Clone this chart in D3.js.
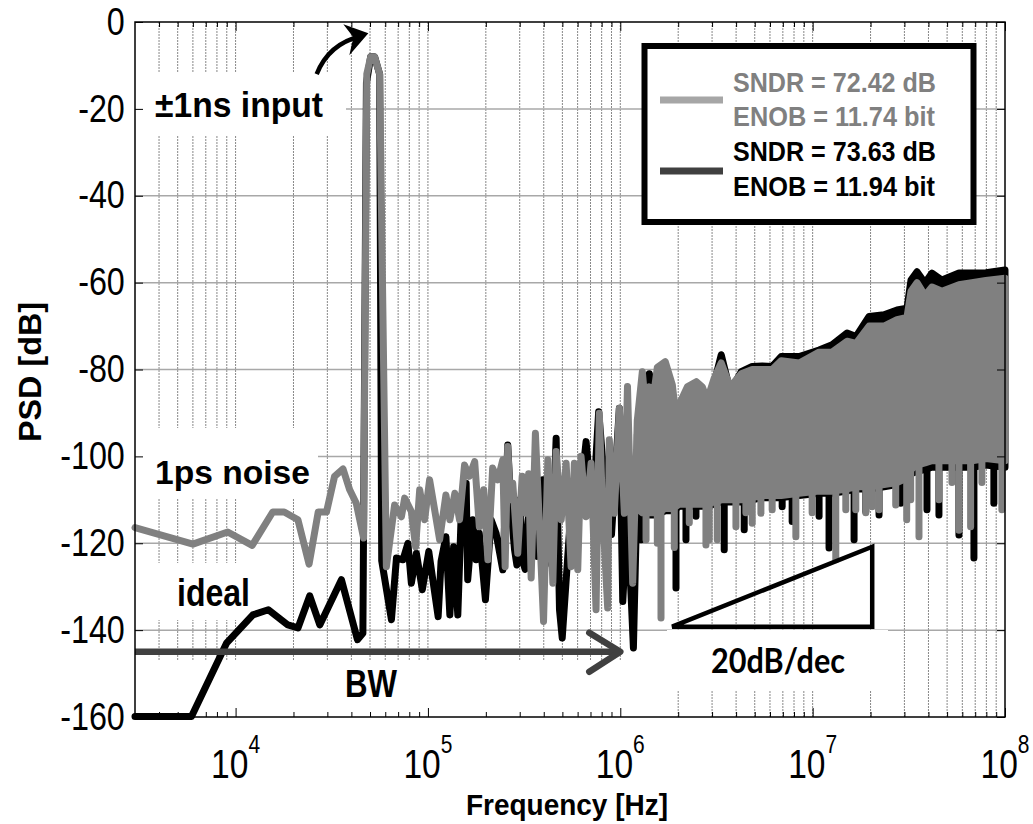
<!DOCTYPE html>
<html>
<head>
<meta charset="utf-8">
<script src="https://cdn.jsdelivr.net/npm/d3@7"></script>
<style>
  body { margin: 0; background: #fff; }
  svg { display: block; }
</style>
</head>
<body>
<div id="chart"></div>
<script>
// PSD plot, 1ps noise vs ideal

const width = 1033;
const height = 824;
const margin = {left: 135, right: 28, top: 22, bottom: 107};
const lineW = 7;

// ---- values ----
const yTicks = [0, -20, -40, -60, -80, -100, -120, -140, -160];
const xDecades = [1e4, 1e5, 1e6, 1e7, 1e8];
const xExponents = ["4", "5", "6", "7", "8"];

// [frequency Hz, dB] for the sparse part of each trace
const grayTrace = [
  [3000,-116.4],[6.0e3,-120.2],[9.1e3,-117.4],[1.22e4,-120.5],[1.56e4,-112.8],[1.79e4,-112.8],
  [2.11e4,-114.6],[2.41e4,-124.8],[2.69e4,-112.8],[2.97e4,-112.8],[3.27e4,-104.6],[3.62e4,-102.9],
  [3.92e4,-107.7],[4.24e4,-110.8],[4.63e4,-118.8],
  [4.81e4,-12],[5.04e4,-8],[5.28e4,-8],[5.61e4,-12],[6.08e4,-125.4],
  [6.71e4,-111.2],[7.28e4,-113.9],[7.57e4,-109.6],[8.20e4,-112.7],[8.63e4,-120.8],[9.06e4,-107.7],
  [9.61e4,-114.6],[1.02e5,-105.4],[1.08e5,-111.9],[1.15e5,-119.2],[1.24e5,-108.9],[1.30e5,-114.6],
  [1.38e5,-108.5],[1.46e5,-114.6],[1.55e5,-102.0],[1.64e5,-104.6],[1.75e5,-101.2],[1.85e5,-116.2],
  [1.95e5,-107.7],[2.05e5,-123.8],[2.17e5,-102.7],[2.31e5,-105.4],[2.45e5,-100.8],[2.52e5,-125.4],
  [2.60e5,-97.7],[2.68e5,-110],[2.76e5,-106.2],[2.93e5,-122.3],[3.09e5,-104.6],[3.24e5,-113.1],
  [3.34e5,-104],[3.44e5,-128.0],[3.62e5,-94.7],[3.80e5,-116.2],[3.99e5,-138.0],[4.20e5,-100.8],
  [4.33e5,-112],[4.46e5,-129.2],[4.64e5,-98.9],[4.93e5,-114.6],[5.23e5,-101.6],[5.55e5,-125.4],
  [5.77e5,-101.6],[6.01e5,-126.1],[6.25e5,-100.0],[6.64e5,-113.9],[7.05e5,-101.6],[7.48e5,-135.3],
  [7.78e5,-90.1],[8.10e5,-113.1],[8.60e5,-134.9],[8.77e5,-96.2],[9.31e5,-113.1],[9.89e5,-88.9],
  [1.05e6,-113.1],[1.09e6,-83.9],[1.16e6,-129.2],[1.227e6,-91.6]
];
const blackTrace = [
  [3000,-159.9],[5.9e3,-159.9],[8.97e3,-143.0],[1.23e4,-136.5],[1.48e4,-135.3],[1.87e4,-138.8],
  [2.11e4,-139.5],[2.43e4,-132.1],[2.74e4,-138.8],[3.55e4,-128.4],[4.30e4,-142.2],[4.59e4,-140.7],
  [4.79e4,-14],[5.04e4,-8],[5.28e4,-8],[5.61e4,-12],[5.75e4,-124],[6.46e4,-137.6],
  [6.86e4,-123.4],[7.42e4,-123.8],[7.87e4,-120.0],[8.20e4,-129.2],[8.71e4,-122.3],[9.35e4,-130.7],
  [1.01e5,-121.9],[1.06e5,-128.4],[1.13e5,-136.9],[1.17e5,-124.2],[1.24e5,-118.5],[1.30e5,-136.5],
  [1.36e5,-120.8],[1.43e5,-136.5],[1.49e5,-113.1],[1.58e5,-106.2],[1.61e5,-128.4],[1.71e5,-114.6],
  [1.78e5,-123.8],[1.85e5,-117.7],[1.99e5,-133.0],[2.13e5,-114.6],[2.26e5,-117.7],[2.45e5,-126.1],
  [2.60e5,-97.4],[2.70e5,-112],[2.82e5,-121.5],[2.90e5,-125],[3.00e5,-110],[3.11e5,-124.2],
  [3.20e5,-126],[3.35e5,-112],[3.51e5,-120.8],[3.70e5,-123],[3.95e5,-105.4],[4.10e5,-113],
  [4.28e5,-120.8],[4.40e5,-125],[4.64e5,-95.8],[4.83e5,-135.3],[4.99e5,-141.8],[5.45e5,-116.9],
  [5.66e5,-124.6],[6.10e5,-112],[6.64e5,-96.6],[7.19e5,-113.1],[7.72e5,-89.7],[8.26e5,-105.4],
  [9.0e5,-118],[9.89e5,-88.9],[1.03e6,-133.4],[1.09e6,-113.1],[1.17e6,-144.1],[1.227e6,-105.4]
];

// dense part above ~1.2 MHz: upper / lower envelope of the noise band
const bandF = [1.227e6,1.302e6,1.36e6,1.416e6,1.49e6,1.558e6,1.714e6,1.864e6,1.95e6,2.026e6,2.230e6,
  2.483e6,2.668e6,2.832e6,3.079e6,3.348e6,3.728e6,4.253e6,4.850e6,5.468e6,6.160e6,6.860e6,8.507e6,
  1.080e7,1.262e7,1.510e7,1.682e7,1.965e7,2.350e7,2.746e7,3.094e7,3.246e7,3.487e7,3.837e7,4.171e7,
  4.700e7,5.762e7,6.730e7,7.956e7,1e8];
const grayBandTop = [-91.6,-80.5,-90,-84,-86,-79.5,-78.2,-83.5,-91,-88,-84,-82.8,-84,-87,-82,-78.5,
  -84,-81,-80,-80,-80,-78,-78.5,-76,-76,-73.5,-74,-70,-70,-68.5,-68,-62,-60,-63,-61,-62,-60.5,-60,
  -59.5,-59];
const grayBandBot = [-112,-113,-113,-113,-113,-113,-112,-112,-111.5,-111,-111,-111,-111,-111,-110.5,
  -110,-110,-110,-109.5,-109,-109,-109,-108.5,-108,-108,-107.5,-107,-107,-106.5,-106,-105,-103,-102,
  -101.5,-101,-101,-101,-101,-100.5,-101];
const blackBandTop = [-95,-86,-92,-81,-88,-84,-84,-86,-93,-90,-86,-84,-86,-88,-83,-76.6,-85,-80.5,
  -79.3,-79.2,-79.3,-77,-77,-75.5,-74.3,-71.6,-72.4,-67.8,-67.4,-66.3,-65.9,-59.4,-57.5,-60.1,-57.8,
  -59.4,-57.8,-57.8,-57.7,-57.1];
const blackBandBot = [-112.5,-113.5,-113.5,-113.5,-113.5,-113.5,-112.5,-112.5,-112,-111.5,-111.5,
  -111.5,-111.5,-111.5,-111,-110.5,-110.5,-110.5,-110,-109.5,-109.5,-109.5,-109,-108.5,-108.5,-108,
  -107.5,-107.5,-107,-106.5,-105.5,-104,-103.5,-103,-102.5,-102.5,-102.5,-102.5,-102,-102.5];

// downward spikes reaching below the band
const graySpikeF = [1.361e6,1.558e6,1.628e6,1.909e6,2.284e6,2.788e6,2.900e6,3.192e6,3.992e6,4.498e6,
  4.850e6,5.383e6,6.160e6,8.179e6,9.94e6,1.319e7,1.487e7,1.676e7,1.889e7,2.04e7,2.214e7,2.703e7,
  3.083e7,3.234e7,3.571e7,4.535e7,5.298e7,5.762e7,6.626e7,7.585e7,9.632e7];
const graySpikeV = [-119.2,-120,-137.2,-121,-115.3,-120.4,-119.2,-119.2,-116.2,-113,-115.4,-113.1,
  -112.3,-118.5,-113,-123.8,-112.3,-112.3,-113,-111.6,-112.3,-111.2,-114.6,-110,-118.5,-110,-106,
  -117,-116.2,-106,-112.3];
const blackSpikeF = [1.282e6,1.948e6,2.195e6,2.474e6,3.470e6,4.408e6,6.943e6,7.825e6,1.080e7,1.217e7,
  1.642e7,1.889e7,2.214e7,2.870e7,3.929e7,4.535e7,5.762e7,6.894e7,8.752e7];
const blackSpikeV = [-119.2,-130.3,-119.2,-113.8,-121.5,-116.9,-111.6,-115,-113.8,-121.1,-119.2,
  -112.7,-113.5,-110.8,-112.3,-113.5,-118.1,-123.4,-110.8];

const legendLabels = [
  ["SNDR = 72.42 dB", "ENOB = 11.74 bit"],
  ["SNDR = 73.63 dB", "ENOB = 11.94 bit"]
];
const seriesColors = ["#808080", "#000000"];
const legendLineColors = ["#a6a6a6", "#404040"];

// ---- svg + scales ----
const svg = d3.select("#chart")
  .append("svg")
  .attr("width", width)
  .attr("height", height)
  .style("font-family", "'Liberation Sans', Arial, sans-serif");

const xScale = d3.scaleLog()
  .domain([3000, 1e8])
  .range([margin.left, width - margin.right]);

const yScale = d3.scaleLinear()
  .domain([-160, 0])
  .range([height - margin.bottom, margin.top]);

const x0 = xScale.range()[0], x1 = xScale.range()[1];
const yBot = yScale(-160), yTop = yScale(0);

// minor tick positions 2..9 per decade
const minorTicks = [];
for (let e = 3; e < 8; e++) {
  for (let m = 2; m < 10; m++) {
    const v = m * Math.pow(10, e);
    if (v > 3000 && v < 1e8) minorTicks.push(v);
  }
}
const allXTicks = minorTicks.concat(xDecades.slice(0, -1));

// grid
svg.append("g")
  .selectAll("line")
  .data(allXTicks)
  .join("line")
    .attr("x1", d => xScale(d)).attr("x2", d => xScale(d))
    .attr("y1", yTop).attr("y2", yBot)
    .attr("stroke", "#888")
    .attr("stroke-width", 1)
    .attr("stroke-dasharray", "2,1");

svg.append("g")
  .selectAll("line")
  .data(yTicks.slice(1, -1))
  .join("line")
    .attr("x1", x0).attr("x2", x1)
    .attr("y1", d => yScale(d)).attr("y2", d => yScale(d))
    .attr("stroke", "#a8a8a8")
    .attr("stroke-width", 1.5);

// white backgrounds of the text annotations (hide grid)
const boxes = [
  [135, 72, 211, 63],   // ±1ns input
  [135, 428, 183, 70],  // 1ps noise
  [135, 563, 123, 57],  // ideal
  [135, 660, 535, 57],  // BW
  [667, 630, 221, 60]   // 20dB/dec
];
svg.append("g")
  .selectAll("rect")
  .data(boxes)
  .join("rect")
    .attr("x", d => d[0]).attr("y", d => d[1])
    .attr("width", d => d[2]).attr("height", d => d[3])
    .attr("fill", "#fff");

// ---- traces ----
const line = d3.line()
  .x(d => xScale(d[0]))
  .y(d => yScale(d[1]));

const area = d3.area()
  .x(d => xScale(d.f))
  .y0(d => yScale(d.bot))
  .y1(d => yScale(d.top));

function drawTrace(trace, top, bot, spikeF, spikeV, color) {
  const g = svg.append("g");
  const rows = bandF.map((f, i) => ({f: f, top: top[i], bot: bot[i]}));
  g.append("path")
    .datum(rows)
    .attr("d", area)
    .attr("fill", color)
    .attr("stroke", color)
    .attr("stroke-width", lineW)
    .attr("stroke-linejoin", "round");
  g.selectAll(".spike")
    .data(spikeF.map((f, i) => [f, spikeV[i]]))
    .join("line")
      .attr("class", "spike")
      .attr("x1", d => xScale(d[0])).attr("x2", d => xScale(d[0]))
      .attr("y1", yScale(-100)).attr("y2", d => yScale(d[1]))
      .attr("stroke", color)
      .attr("stroke-width", lineW)
      .attr("stroke-linecap", "round");
  g.append("path")
    .datum(trace)
    .attr("d", line)
    .attr("fill", "none")
    .attr("stroke", color)
    .attr("stroke-width", lineW)
    .attr("stroke-linejoin", "round")
    .attr("stroke-linecap", "round");
}

drawTrace(blackTrace, blackBandTop, blackBandBot, blackSpikeF, blackSpikeV, seriesColors[1]);
drawTrace(grayTrace, grayBandTop, grayBandBot, graySpikeF, graySpikeV, seriesColors[0]);

// ---- annotations ----
// BW arrow
svg.append("path")
  .attr("d", line([[3000, -145], [1e6, -145]]))
  .attr("stroke", "#404040").attr("stroke-width", 6.5).attr("fill", "none");
svg.append("path")
  .attr("d", line([[6.9e5, -140.6], [1e6, -145], [6.9e5, -149.6]]))
  .attr("stroke", "#404040").attr("stroke-width", 6.5).attr("fill", "none")
  .attr("stroke-linecap", "round").attr("stroke-linejoin", "round");

// 20 dB/dec triangle
svg.append("path")
  .attr("d", line([[1.86e6, -139.2], [2.04e7, -139.2], [2.04e7, -120.8]]) + "Z")
  .attr("stroke", "#000").attr("stroke-width", 4.5).attr("fill", "none")
  .attr("stroke-linejoin", "miter");

// curved arrow to the input tone
const aS = [xScale(2.64e4), yScale(-12)];
const aE = [xScale(4.9e4), yScale(-2.6)];
svg.append("path")
  .attr("d", `M${aS[0]},${aS[1]} Q${aS[0] + 12},${aS[1] - 30} ${aE[0] - 8},${aE[1] + 3}`)
  .attr("stroke", "#000").attr("stroke-width", 4.5).attr("fill", "none");
svg.append("path")
  .attr("d", `M${aE[0]},${aE[1]} L${aE[0] - 25},${aE[1] - 9} L${aE[0] - 15},${aE[1] + 4} L${aE[0] - 19},${aE[1] + 22} Z`)
  .attr("fill", "#000");

function label(txt, x, y, size, len, opts = {}) {
  return svg.append("text")
    .attr("x", x).attr("y", y)
    .attr("font-size", size)
    .attr("font-weight", "bold")
    .attr("textLength", len)
    .attr("lengthAdjust", "spacingAndGlyphs")
    .attr("fill", opts.fill || "#000")
    .style("font-family", opts.family || null)
    .text(txt);
}
label("±1ns input", 155, 117, 35, 168);
label("1ps noise", 155, 484, 34, 155);
label("ideal", 177, 606, 39, 73);
label("BW", 345, 697, 38, 52);
label("20dB/dec", 711, 673, 34, 134, {family: "Lato, 'Open Sans', sans-serif"});

// ---- axes ----
svg.append("g")
  .attr("transform", `translate(${x0},0)`)
  .call(d3.axisLeft(yScale).tickValues(yTicks).tickSize(-8).tickPadding(12).tickFormat(d => String(d)))
  .call(g => g.select(".domain").remove())
  .call(g => g.selectAll("text").attr("transform", "scale(0.85,1)"))
  .attr("font-size", 38)
  .attr("font-family", "'Liberation Sans', Arial, sans-serif");

svg.append("g")
  .attr("transform", `translate(${x1},0)`)
  .call(d3.axisRight(yScale).tickValues(yTicks).tickSize(-8).tickFormat(""))
  .call(g => g.select(".domain").remove());

[[d3.axisBottom, yBot], [d3.axisTop, yTop]].forEach(([ax, pos]) => {
  svg.append("g")
    .attr("transform", `translate(0,${pos})`)
    .call(ax(xScale).tickValues(minorTicks).tickSize(-5).tickFormat(""))
    .call(g => g.select(".domain").remove());
  svg.append("g")
    .attr("transform", `translate(0,${pos})`)
    .call(ax(xScale).tickValues(xDecades).tickSize(-9).tickFormat(""))
    .call(g => g.select(".domain").remove());
});

svg.append("rect")
  .attr("x", x0).attr("y", yTop)
  .attr("width", x1 - x0).attr("height", yBot - yTop)
  .attr("fill", "none").attr("stroke", "#000").attr("stroke-width", 1.5);

// x tick labels 10^n
const xLab = svg.append("g")
  .selectAll("text")
  .data(xDecades)
  .join("text")
    .attr("transform", d => `translate(${xScale(d)},778) scale(0.84,1)`)
    .attr("text-anchor", "middle")
    .attr("font-size", 40);
xLab.append("tspan").text("10");
xLab.append("tspan")
  .attr("font-size", 25)
  .attr("dy", -25)
  .text((d, i) => xExponents[i]);

// axis titles
svg.append("text")
  .attr("x", (x0 + x1) / 2 - 3).attr("y", 815)
  .attr("text-anchor", "middle")
  .attr("font-size", 30).attr("font-weight", "bold")
  .attr("textLength", 202).attr("lengthAdjust", "spacingAndGlyphs")
  .text("Frequency [Hz]");

svg.append("text")
  .attr("transform", "translate(41,372) rotate(-90)")
  .attr("text-anchor", "middle")
  .attr("font-size", 31).attr("font-weight", "bold")
  .attr("textLength", 140).attr("lengthAdjust", "spacingAndGlyphs")
  .text("PSD [dB]");

// ---- legend ----
const legend = svg.append("g");
legend.append("rect")
  .attr("x", 644.5).attr("y", 46).attr("width", 329).attr("height", 176)
  .attr("fill", "#fff").attr("stroke", "#000").attr("stroke-width", 6);

legendLabels.forEach((pair, i) => {
  const yl = 100 + i * 71;
  legend.append("line")
    .attr("x1", 660).attr("x2", 723).attr("y1", yl).attr("y2", yl)
    .attr("stroke", legendLineColors[i]).attr("stroke-width", 7);
  pair.forEach((t, j) => {
    legend.append("text")
      .attr("x", 733).attr("y", 91.7 + i * 69.5 + j * 34.5)
      .attr("font-size", 28).attr("font-weight", "bold")
      .attr("textLength", j === 0 ? 203 : 202).attr("lengthAdjust", "spacingAndGlyphs")
      .attr("fill", seriesColors[i])
      .text(t);
  });
});
</script>
</body>
</html>
